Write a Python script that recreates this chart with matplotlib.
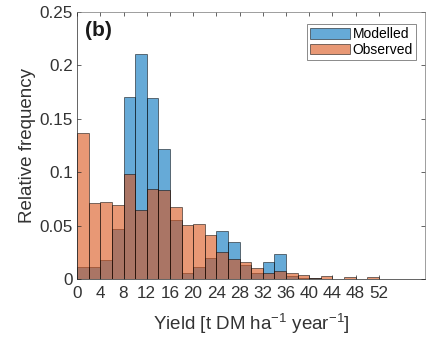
import numpy as np
import matplotlib
matplotlib.use("Agg")
import matplotlib.pyplot as plt

plt.rcParams['font.family'] = ['Liberation Sans', 'DejaVu Sans']
plt.rcParams['mathtext.fontset'] = 'custom'
plt.rcParams['mathtext.rm'] = 'Liberation Sans'

bin_width = 2
bin_starts = list(range(0, 52, 2))
modelled = [0.0112, 0.011, 0.018, 0.0465, 0.170, 0.211, 0.169, 0.1217, 0.0556, 0.006,
            0.011, 0.0194, 0.0453, 0.035, 0.0128, 0.006, 0.0165, 0.0234, 0.003, 0.001,
            0.001, 0.0, 0.0, 0.0, 0.0, 0.0]
observed = [0.137, 0.0708, 0.072, 0.0696, 0.0986, 0.0646, 0.084, 0.083, 0.0674, 0.0506,
            0.0512, 0.0412, 0.025, 0.019, 0.0162, 0.0106, 0.0056, 0.0078, 0.0053, 0.004,
            0.001, 0.0025, 0.0, 0.0022, 0.0, 0.0022]
xticks = list(range(0, 53, 4))
yticks = [0, 0.05, 0.1, 0.15, 0.2, 0.25]
ytick_labels = ['0', '0.05', '0.1', '0.15', '0.2', '0.25']

fig = plt.figure(figsize=(4.26, 3.40), dpi=100)
ax = fig.add_axes([0.181, 0.179, 0.817, 0.786])

blue = (0.0, 0.447, 0.741)
orange = (0.85, 0.325, 0.098)
ax.bar(bin_starts, modelled, width=bin_width, align='edge', color=blue, alpha=0.6,
       edgecolor=(0, 0, 0, 0.8), linewidth=0.6, label='Modelled')
ax.bar(bin_starts, observed, width=bin_width, align='edge', color=orange, alpha=0.6,
       edgecolor=(0, 0, 0, 0.8), linewidth=0.6, label='Observed')

ax.set_xlim(0, 60)
ax.set_ylim(0, 0.25)
ax.set_xticks(xticks)
ax.set_yticks(yticks)
ax.set_yticklabels(ytick_labels)
ax.tick_params(direction='in', top=True, right=True, labelsize=12.3, length=3,
               color='#262626', labelcolor='#333333', width=0.5)
ax.tick_params(axis='x', pad=5)
ax.tick_params(axis='y', pad=3)
for s in ax.spines.values():
    s.set_color('#262626')
    s.set_linewidth(0.5)
ax.spines['top'].set_color('#777777')
ax.spines['right'].set_color('#777777')
ax.set_ylabel('Relative frequency', fontsize=13.5, color='#333333', labelpad=3)
ax.set_xlabel('Yield [t DM ha$^{-1}$ year$^{-1}$]', fontsize=13.5, color='#333333', labelpad=7)
ax.text(0.023, 0.965, '(b)', transform=ax.transAxes, fontsize=15, fontweight='bold',
        va='top', ha='left', color='#1a1a1a')
leg = ax.legend(loc='upper right', bbox_to_anchor=(0.974, 0.955), fontsize=10, frameon=True,
                fancybox=False, edgecolor='#555555', borderpad=0.25, labelspacing=0.1,
                handlelength=2.9, handleheight=0.8, handletextpad=0.15, borderaxespad=0.0)
leg.get_frame().set_linewidth(0.6)

fig.savefig('out.png', dpi=100)
